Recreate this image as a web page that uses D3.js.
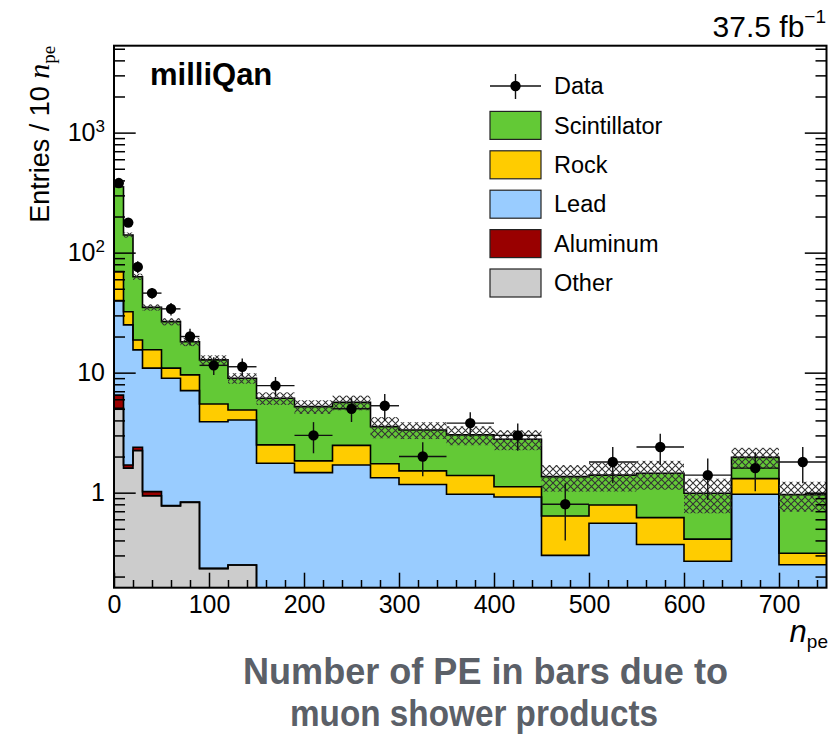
<!DOCTYPE html>
<html>
<head>
<meta charset="utf-8">
<script src="https://cdn.jsdelivr.net/npm/d3@7"></script>
<style>
  body { margin: 0; background: #fff; }
  text { font-family: "Liberation Sans", Arial, Helvetica, sans-serif; }
</style>
</head>
<body>
<div id="chart"></div>
<script>
// bin edges (n_pe), variable width
const binEdges = [0, 10, 20, 30, 50, 70, 90, 120, 150, 190, 230, 270, 300, 350, 400, 450, 500, 550, 600, 650, 700, 750];

// simulated contributions per bin (entries / 10 n_pe), stacked bottom to top
const other        = [5.05, 1.6, 2.24, 0.94, 0.774, 0.83, 0.233, 0.25, 0, 0, 0, 0, 0, 0, 0, 0, 0, 0, 0, 0, 0];
const aluminum     = [1.45, 0.1, 0.15, 0.08, 0.006, 0.005, 0.001, 0, 0, 0, 0, 0, 0, 0, 0, 0, 0, 0, 0, 0, 0];
const lead         = [33.3, 23.3, 13.1, 9.88, 8.2, 6.25, 3.67, 3.78, 1.76, 1.47, 1.70, 1.33, 1.17, 0.97, 0.92, 0.30, 0.556, 0.37, 0.268, 0.97, 0.251];
const rock         = [29.7, 7.2, 3.2, 4.6, 1.92, 2.49, 1.58, 0.86, 0.74, 0.37, 0.78, 0.41, 0.35, 0.42, 0.20, 0.34, 0.234, 0.25, 0.142, 0.34, 0.062];
const scintillator = [285, 108, 44.3, 19.5, 15.7, 8.5, 7.3, 4.1, 3.62, 3.37, 3.17, 1.81, 1.81, 1.64, 1.67, 0.72, 0.61, 0.83, 0.58, 0.66, 0.65];

// relative MC uncertainty (hatched band)
const mcErrFrac = [0.02, 0.05, 0.06, 0.06, 0.07, 0.08, 0.09, 0.10, 0.12, 0.13, 0.14, 0.20, 0.16, 0.18, 0.19, 0.25, 0.27, 0.27, 0.32, 0.20, 0.28];

// observed data and its error
const dataValues = [380, 178, 76, 46, 34, 20, 11.5, 11.2, 7.8, 3.0, 5.0, 5.3, 2.0, 3.8, 3.0, 0.8, 1.8, 2.4, 1.4, 1.6, 1.8];
const dataErr    = [19.5, 13.3, 8.7, 4.8, 4.1, 3.2, 1.96, 1.93, 1.4, 0.87, 1.12, 1.33, 0.63, 0.87, 0.77, 0.40, 0.60, 0.69, 0.53, 0.57, 0.60];

const processes = ['Other', 'Aluminum', 'Lead', 'Rock', 'Scintillator'];
const processColors = ['#cccccc', '#990000', '#99ccff', '#ffcc00', '#63c936'];

const xTickValues = [0, 100, 200, 300, 400, 500, 600, 700];
const yTickValues = [1, 10, 100, 1000];
const yTickBase = ['1', '10', '10', '10'];
const yTickExp = ['', '', '2', '3'];

const W = 828, H = 736;
const plot = {left: 114, right: 826.5, top: 45.7, bottom: 587.7};

const svg = d3.select('#chart').append('svg')
    .attr('width', W)
    .attr('height', H);

const x = d3.scaleLinear().domain([0, 750]).range([plot.left, plot.right]);
const y = d3.scaleLog().domain([0.1615, 5300]).range([plot.bottom, plot.top]).clamp(true);
const yv = v => y(Math.max(v, 1e-4));

// table for the stack
const series = {Other: other, Aluminum: aluminum, Lead: lead, Rock: rock, Scintillator: scintillator};
const rows = binEdges.slice(0, -1).map((e, i) => {
  const r = {x0: e, x1: binEdges[i + 1]};
  processes.forEach(p => r[p] = series[p][i]);
  return r;
});
const stacked = d3.stack().keys(processes)(rows);
const totals = rows.map((r, i) => stacked[stacked.length - 1][i][1]);

const defs = svg.append('defs');
defs.append('clipPath').attr('id', 'plot-clip')
  .append('rect')
    .attr('x', plot.left).attr('y', plot.top)
    .attr('width', plot.right - plot.left).attr('height', plot.bottom - plot.top);

defs.append('pattern')
    .attr('id', 'hatch')
    .attr('patternUnits', 'userSpaceOnUse')
    .attr('width', 7).attr('height', 7)
  .append('path')
    .attr('d', 'M0,0 L7,7 M7,0 L0,7')
    .attr('stroke', '#333')
    .attr('stroke-width', 1.1);

const g = svg.append('g').attr('clip-path', 'url(#plot-clip)');

// step points: one per bin start plus the last edge
function stepPoints(layer) {
  const pts = layer.map((d, i) => ({x: binEdges[i], y0: d[0], y1: d[1]}));
  const last = layer[layer.length - 1];
  pts.push({x: binEdges[binEdges.length - 1], y0: last[0], y1: last[1]});
  return pts;
}

const area = d3.area()
    .curve(d3.curveStepAfter)
    .x(d => x(d.x))
    .y0(d => yv(d.y0))
    .y1(d => yv(d.y1));

const topLine = d3.line()
    .curve(d3.curveStepAfter)
    .x(d => x(d.x))
    .y(d => yv(d.y1));

g.append('g').attr('id', 'stack')
  .selectAll('path')
  .data(stacked)
  .join('path')
    .attr('d', d => area(stepPoints(d)))
    .attr('fill', (d, i) => processColors[i]);

g.append('g').attr('id', 'outlines')
  .selectAll('path')
  .data(stacked)
  .join('path')
    .attr('d', d => topLine(stepPoints(d)))
    .attr('fill', 'none')
    .attr('stroke', '#000')
    .attr('stroke-width', 1.6);

// MC uncertainty band
g.append('g').attr('id', 'band')
  .selectAll('rect')
  .data(rows)
  .join('rect')
    .attr('x', d => x(d.x0))
    .attr('width', d => x(d.x1) - x(d.x0))
    .attr('y', (d, i) => yv(totals[i] * (1 + mcErrFrac[i])))
    .attr('height', (d, i) => yv(totals[i] * (1 - mcErrFrac[i])) - yv(totals[i] * (1 + mcErrFrac[i])))
    .attr('fill', 'url(#hatch)');

// data points
const pts = g.append('g').attr('id', 'data')
  .selectAll('g')
  .data(rows)
  .join('g');

pts.append('line')
    .attr('x1', d => x(d.x0)).attr('x2', d => x(d.x1))
    .attr('y1', (d, i) => yv(dataValues[i])).attr('y2', (d, i) => yv(dataValues[i]))
    .attr('stroke', '#111').attr('stroke-width', 1.4);
pts.append('line')
    .attr('x1', d => x((d.x0 + d.x1) / 2)).attr('x2', d => x((d.x0 + d.x1) / 2))
    .attr('y1', (d, i) => yv(dataValues[i] + dataErr[i]))
    .attr('y2', (d, i) => yv(dataValues[i] - dataErr[i]))
    .attr('stroke', '#111').attr('stroke-width', 1.4);
pts.append('circle')
    .attr('cx', d => x((d.x0 + d.x1) / 2))
    .attr('cy', (d, i) => yv(dataValues[i]))
    .attr('r', 5.2)
    .attr('fill', '#000');

// axes
const minorX = d3.range(0, 751, 20).filter(v => v % 100 !== 0);
const minorY = [];
[0.1, 1, 10, 100, 1000].forEach(dec => {
  for (let k = 2; k <= 9; k++) {
    const v = k * dec;
    if (v >= 0.1615 && v <= 5300) minorY.push(v);
  }
});

svg.append('g')
    .attr('transform', `translate(0,${plot.bottom})`)
    .call(d3.axisBottom(x).tickValues(minorX).tickSizeInner(-7.7).tickSizeOuter(0).tickFormat(''))
    .call(a => a.select('.domain').remove());

svg.append('g')
    .attr('class', 'x-axis')
    .attr('transform', `translate(0,${plot.bottom})`)
    .call(d3.axisBottom(x).tickValues(xTickValues).tickSizeInner(-15).tickSizeOuter(0).tickPadding(8))
    .call(a => a.select('.domain').remove())
    .call(a => a.selectAll('text')
        .attr('fill', '#000')
        .attr('font-size', 25)
        .attr('font-family', '"Liberation Sans", Arial, sans-serif'));

svg.append('g')
    .attr('transform', `translate(${plot.left},0)`)
    .call(d3.axisLeft(y).tickValues(minorY).tickSizeInner(-11).tickSizeOuter(0).tickFormat(''))
    .call(a => a.select('.domain').remove());

svg.append('g')
    .attr('transform', `translate(${plot.left},0)`)
    .call(d3.axisLeft(y).tickValues(yTickValues).tickSizeInner(-21.7).tickSizeOuter(0).tickPadding(9))
    .call(a => a.select('.domain').remove())
    .call(a => a.selectAll('text')
        .attr('fill', '#000')
        .attr('font-size', 25)
        .attr('font-family', '"Liberation Sans", Arial, sans-serif')
        .each(function(d, i) {
          const t = d3.select(this).text(null);
          t.append('tspan').text(yTickBase[i]);
          if (yTickExp[i]) {
            t.append('tspan')
                .attr('dy', '-0.55em')
                .attr('font-size', 17)
                .text(yTickExp[i]);
          }
        }));

svg.append('g')
    .attr('transform', `translate(${plot.right},0)`)
    .call(d3.axisRight(y).tickValues(minorY).tickSizeInner(-11).tickSizeOuter(0).tickFormat(''))
    .call(a => a.select('.domain').remove());
svg.append('g')
    .attr('transform', `translate(${plot.right},0)`)
    .call(d3.axisRight(y).tickValues(yTickValues).tickSizeInner(-21.7).tickSizeOuter(0).tickFormat(''))
    .call(a => a.select('.domain').remove());

svg.selectAll('.tick line').attr('stroke', '#000').attr('stroke-width', 1.5);

// frame
svg.append('rect')
    .attr('x', plot.left).attr('y', plot.top)
    .attr('width', plot.right - plot.left).attr('height', plot.bottom - plot.top)
    .attr('fill', 'none')
    .attr('stroke', '#000')
    .attr('stroke-width', 2);

// axis titles
const yTitle = svg.append('text')
    .attr('transform', `translate(49,${plot.top}) rotate(-90)`)
    .attr('text-anchor', 'end')
    .attr('font-size', 27);
yTitle.append('tspan').text('Entries / 10 ');
yTitle.append('tspan')
    .attr('font-family', '"Liberation Serif", "Times New Roman", serif')
    .attr('font-style', 'italic')
    .attr('font-size', 30)
    .text('n');
yTitle.append('tspan')
    .attr('font-family', '"Liberation Serif", "Times New Roman", serif')
    .attr('font-size', 19)
    .attr('dy', '0.3em')
    .text('pe');

const xTitle = svg.append('text')
    .attr('x', 828).attr('y', 642)
    .attr('text-anchor', 'end')
    .attr('font-family', '"Liberation Serif", "Times New Roman", serif');
xTitle.append('tspan').attr('font-style', 'italic').attr('font-size', 31).text('n');
xTitle.append('tspan').attr('font-size', 19).attr('dy', '0.3em').text('pe');

// labels
svg.append('text')
    .attr('x', 150).attr('y', 85)
    .attr('font-size', 31)
    .attr('font-weight', 'bold')
    .text('milliQan');

const lumi = svg.append('text')
    .attr('x', 826).attr('y', 37)
    .attr('text-anchor', 'end')
    .attr('font-size', 30);
lumi.append('tspan').text('37.5 fb');
lumi.append('tspan').attr('font-size', 19).attr('dy', '-0.75em').text('\u22121');

// legend
const legendLabels = ['Scintillator', 'Rock', 'Lead', 'Aluminum', 'Other'];
const legendColors = ['#63c936', '#ffcc00', '#99ccff', '#990000', '#cccccc'];
const legend = svg.append('g').attr('transform', 'translate(490,86)');
const rowH = 39.4;

const dataRow = legend.append('g');
dataRow.append('line').attr('x1', 0).attr('x2', 51).attr('y1', 0).attr('y2', 0)
    .attr('stroke', '#111').attr('stroke-width', 1.4);
dataRow.append('line').attr('x1', 25.5).attr('x2', 25.5).attr('y1', -12).attr('y2', 13)
    .attr('stroke', '#111').attr('stroke-width', 1.4);
dataRow.append('circle').attr('cx', 25.5).attr('cy', 0).attr('r', 5.2).attr('fill', '#000');
dataRow.append('text').attr('x', 64).attr('y', 0).attr('dy', '0.35em')
    .attr('font-size', 23.5).text('Data');

legend.selectAll('g.entry')
  .data(legendLabels)
  .join('g')
    .attr('class', 'entry')
    .attr('transform', (d, i) => `translate(0,${(i + 1) * rowH})`)
    .call(e => e.append('rect')
        .attr('x', 0).attr('y', -14).attr('width', 51).attr('height', 28)
        .attr('fill', (d, i) => legendColors[i])
        .attr('stroke', '#222').attr('stroke-width', 1.2))
    .call(e => e.append('text')
        .attr('x', 64).attr('y', 0).attr('dy', '0.35em')
        .attr('font-size', 23.5)
        .text(d => d));

// caption below the chart
const caption = ['Number of PE in bars due to', 'muon shower products'];
const captionX = [485.5, 474];
const captionLen = [485, 368];
svg.selectAll('text.caption')
  .data(caption)
  .join('text')
    .attr('class', 'caption')
    .attr('x', (d, i) => captionX[i])
    .attr('y', (d, i) => 684 + i * 42)
    .attr('text-anchor', 'middle')
    .attr('font-size', 37)
    .attr('font-weight', 'bold')
    .attr('fill', '#5b6068')
    .attr('textLength', (d, i) => captionLen[i])
    .attr('lengthAdjust', 'spacingAndGlyphs')
    .text(d => d);
</script>
</body>
</html>
